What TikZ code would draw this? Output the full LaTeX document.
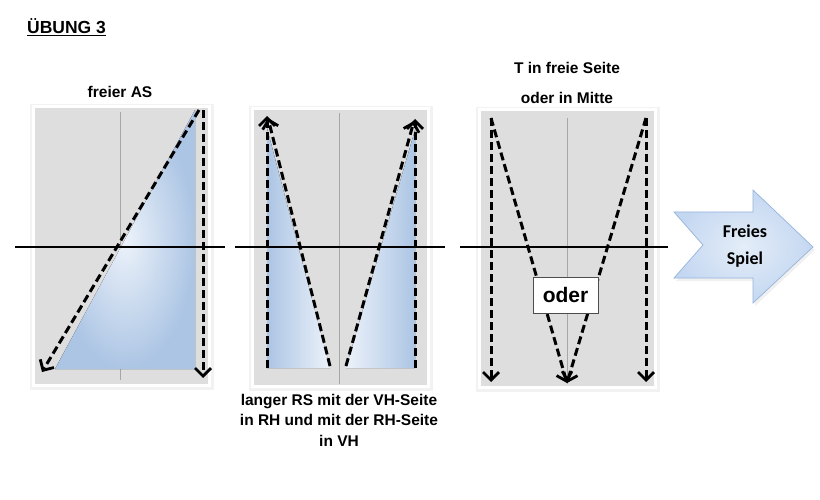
\documentclass[tikz,border=0pt]{standalone}
\usepackage{fontspec}
\setmainfont{Liberation Sans}[BoldFont={Liberation Sans Bold}]
\newfontfamily\calfont{Carlito}[BoldFont={Carlito Bold}]
\usetikzlibrary{arrows.meta}
\definecolor{panelgray}{RGB}{222,222,222}
\definecolor{tdark}{RGB}{172,197,228}
\definecolor{tlight}{RGB}{236,242,250}
\definecolor{arrfill}{RGB}{196,215,241}
\definecolor{arrlight}{RGB}{228,237,248}
\definecolor{arredge}{RGB}{150,180,220}
\tikzset{
  lbl/.style={font=\bfseries\fontsize{15.5}{20.5}\selectfont, inner sep=0pt, align=center},
  midline/.style={draw=gray!70, line width=0.8pt},
  netline/.style={draw=black, line width=2.5pt},
  run/.style={draw=black, line width=3pt, dash pattern=on 8pt off 4pt,
     -{Straight Barb[length=8pt,width=16pt,line width=2.8pt]}},
}
\newcommand{\panelbox}[4]{%
  \fill[black, opacity=0.05] (#1-2,#2-1) rectangle (#3+3,#4+3);
  \fill[white] (#1,#2) rectangle (#3,#4);
  \fill[panelgray] (#1+3,#2+3) rectangle (#3-3,#4-3);
}
\begin{document}
\begin{tikzpicture}[x=1pt,y=-1pt]
\useasboundingbox (0,0) rectangle (820,500);
\fill[white] (0,0) rectangle (820,500);

% title
\node[lbl, anchor=west, font=\bfseries\fontsize{17.5}{20}\selectfont] (title) at (27,27) {\underline{ÜBUNG 3}};

% ---------- panel 1 ----------
\panelbox{32}{105}{211}{387}
\coordinate (p1mt) at (120,112);
\coordinate (p1mb) at (120,380);
\draw[midline] (p1mt) -- (p1mb);
\fill[inner color=tlight, outer color=tdark] (195,110) -- (195,369) -- (55,369) -- cycle;
\coordinate (h1a) at (15,247);
\coordinate (h1b) at (225,247);
\draw[netline] (h1a) -- (h1b);
\coordinate (a1s) at (199,110);
\coordinate (a1e) at (42,372);
\coordinate (a2s) at (203,110);
\coordinate (a2e) at (203,378);
\draw[run] (a1s) -- (a1e);
\draw[run] (a2s) -- (a2e);
\node[lbl] (t1) at (120,92) {freier AS};

% ---------- panel 2 ----------
\panelbox{251}{107}{430}{388}
\coordinate (p2mt) at (339,113);
\coordinate (p2mb) at (339,384);
\draw[midline] (p2mt) -- (p2mb);
\fill[left color=tdark, right color=tlight] (267,128) -- (267,368) -- (330,368) -- cycle;
\fill[left color=tlight, right color=tdark] (415,130) -- (415,368) -- (346,368) -- cycle;
\coordinate (h2a) at (235,247);
\coordinate (h2b) at (445,247);
\draw[netline] (h2a) -- (h2b);
\coordinate (b1s) at (267,368);
\coordinate (b1e) at (267,116);
\coordinate (b2s) at (330,366);
\coordinate (b2e) at (268,118);
\coordinate (b3s) at (415,368);
\coordinate (b3e) at (415,119);
\coordinate (b4s) at (346,366);
\coordinate (b4e) at (414,121);
\draw[run] (b1s) -- (b1e);
\draw[run] (b2s) -- (b2e);
\draw[run] (b3s) -- (b3e);
\draw[run] (b4s) -- (b4e);
\node[lbl] (t2) at (339,420) {langer RS mit der VH-Seite\\in RH und mit der RH-Seite\\in VH};

% ---------- panel 3 ----------
\panelbox{478}{108}{657}{389}
\coordinate (p3mt) at (567,118);
\coordinate (p3mb) at (567,384);
\draw[midline] (p3mt) -- (p3mb);
\coordinate (h3a) at (460,247);
\coordinate (h3b) at (668,247);
\draw[netline] (h3a) -- (h3b);
\coordinate (c1s) at (491,118);
\coordinate (c1e) at (491,382);
\coordinate (c4s) at (646,118);
\coordinate (c4e) at (646,382);
\coordinate (cm) at (567,383);
\draw[run] (c1s) -- (c1e);
\draw[run] (c1s) -- (cm);
\draw[run] (c4s) -- (cm);
\draw[run] (c4s) -- (c4e);
\node[draw=black!70, line width=0.6pt, fill=white, minimum width=65pt, minimum height=36pt,
      inner sep=0pt, font=\bfseries\fontsize{21}{24}\selectfont] (oder) at (565.5,295) {oder};
\node[lbl] (t3a) at (567,68) {T in freie Seite};
\node[lbl] (t3b) at (567,98) {oder in Mitte};

% ---------- Freies Spiel arrow ----------
\fill[black, opacity=0.06] (676,215) -- (755,215) -- (755,193) -- (815,250) -- (755,306) -- (755,281) -- (676,281) -- (705,248) -- cycle;
\draw[draw=arredge, line width=0.7pt, inner color=arrlight, outer color=arrfill]
  (674,212) -- (753,212) -- (753,190) -- (813,247) -- (753,303) -- (753,278) -- (674,278) -- (703,245) -- cycle;
\node[inner sep=0pt, align=center, font=\calfont\bfseries\fontsize{18}{27}\selectfont] (fs) at (745,246) {Freies\\Spiel};
\end{tikzpicture}
\end{document}
